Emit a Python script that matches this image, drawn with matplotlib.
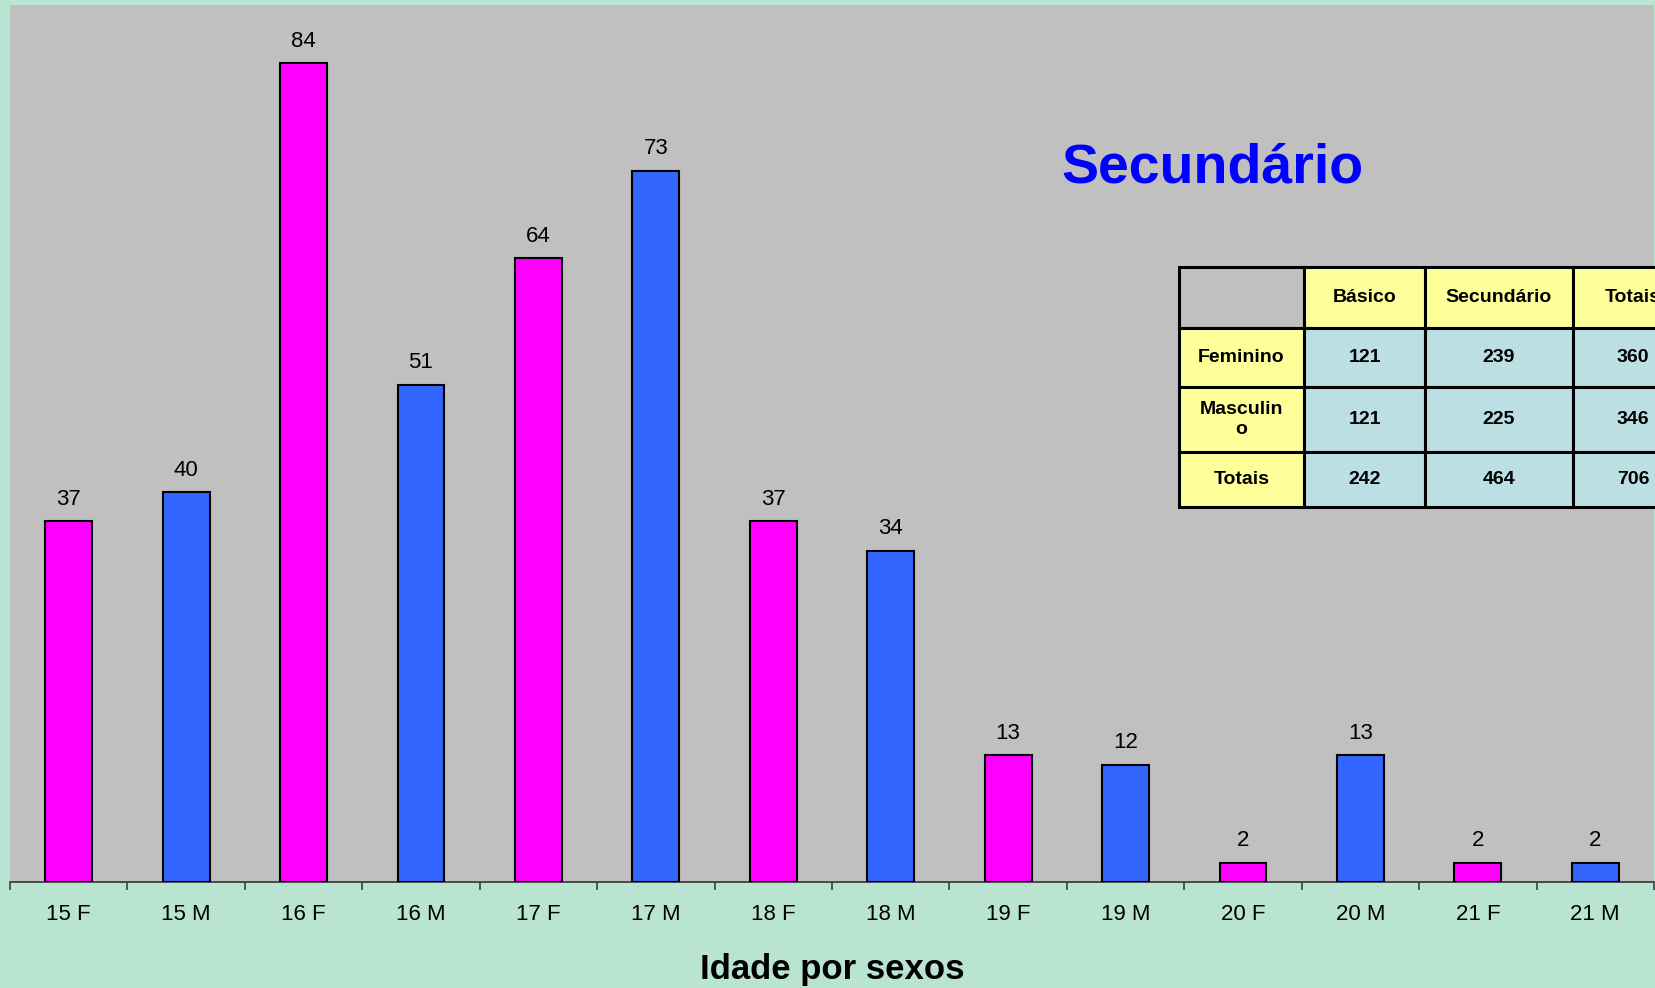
import matplotlib
matplotlib.use("Agg")
import matplotlib.pyplot as plt
from matplotlib.patches import Rectangle
from matplotlib import rcParams

rcParams["font.family"] = ["Liberation Sans", "DejaVu Sans"]

# data
categories = ["15 F", "15 M", "16 F", "16 M", "17 F", "17 M", "18 F",
              "18 M", "19 F", "19 M", "20 F", "20 M", "21 F", "21 M"]
values = [37, 40, 84, 51, 64, 73, 37, 34, 13, 12, 2, 13, 2, 2]
sexes = ["F", "M"] * 7

table_cols = ["", "Básico", "Secundário", "Totais"]
table_rows = ["Feminino", "Masculin\no", "Totais"]
table_basico = [121, 121, 242]
table_secundario = [239, 225, 464]
table_totais = [360, 346, 706]

BG = "#b9e4d1"
PLOT_BG = "#c0c0c0"
colors = {"F": "#ff00ff", "M": "#3366ff"}

W, H = 1656, 988
fig = plt.figure(figsize=(W / 100, H / 100), dpi=100, facecolor=BG)
ax = fig.add_axes([10 / W, 106 / H, 1644 / W, 877 / H])
ax.set_facecolor(PLOT_BG)

x = list(range(len(categories)))
ax.bar(x, values, width=0.40, color=[colors[s] for s in sexes],
       edgecolor="black", linewidth=1.5, zorder=3)
for xi, v in zip(x, values):
    ax.text(xi, v + 1.2, str(v), ha="center", va="bottom", fontsize=16)

ax.set_xlim(-0.5, len(categories) - 0.5)
ax.set_ylim(0, 90)
ax.set_yticks([])
for s in ["left", "right", "top"]:
    ax.spines[s].set_visible(False)
ax.spines["bottom"].set_color("#404040")
ax.spines["bottom"].set_linewidth(1.3)

ax.set_xticks(x)
ax.set_xticklabels(categories, fontsize=16)
ax.tick_params(axis="x", which="major", length=0, pad=16)
ax.set_xticks([i - 0.5 for i in range(len(categories) + 1)], minor=True)
ax.tick_params(axis="x", which="minor", length=6, width=1.2, color="#404040")

fig.text(832 / W, 1 - 969 / H, "Idade por sexos", ha="center", va="center",
         fontsize=25, fontweight="bold")
fig.text(1212 / W, 1 - 168 / H, "Secundário", ha="center", va="center",
         fontsize=40, fontweight="bold", color="#0000ff")

# summary table, drawn in pixel positions (last column runs past the edge)
col_x = [1179, 1304, 1425, 1573, 1693]
row_y = [267, 328, 387, 452, 507]
YELLOW = "#ffff99"
BLUE = "#bcdfe4"


def cell(c, r, text, face):
    x0, x1 = col_x[c], col_x[c + 1]
    y0, y1 = row_y[r], row_y[r + 1]
    fig.patches.append(Rectangle((x0 / W, 1 - y1 / H), (x1 - x0) / W, (y1 - y0) / H,
                                 transform=fig.transFigure, facecolor=face,
                                 edgecolor="black", linewidth=2.2, zorder=5))
    if text:
        fig.text((x0 + x1) / 2 / W, 1 - (y0 + y1) / 2 / H, text, ha="center",
                 va="center", fontsize=14, fontweight="bold", zorder=6,
                 linespacing=1.25)


for c, name in enumerate(table_cols):
    cell(c, 0, name, PLOT_BG if c == 0 else YELLOW)
for r, name in enumerate(table_rows):
    cell(0, r + 1, name, YELLOW)
    cell(1, r + 1, str(table_basico[r]), BLUE)
    cell(2, r + 1, str(table_secundario[r]), BLUE)
    cell(3, r + 1, str(table_totais[r]), BLUE)

fig.savefig("out.png", dpi=100, facecolor=BG)
